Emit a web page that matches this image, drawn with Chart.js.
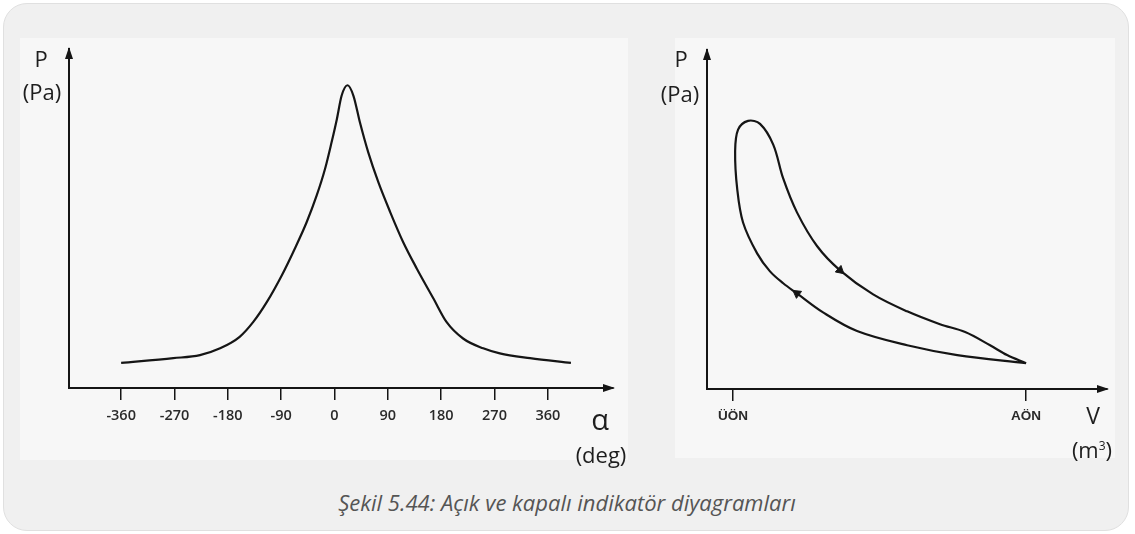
<!DOCTYPE html>
<html lang="tr">
<head>
<meta charset="UTF-8" />
<title>İndikatör diyagramları</title>
<script src="https://cdn.jsdelivr.net/npm/chart.js"></script>
<style>
  body { margin: 0; background: #fff; font-family: "Open Sans", sans-serif; }
  .card {
    position: absolute; left: 3px; top: 3px; width: 1124px; height: 526px;
    background: #f0f0f0; border: 1px solid #e0e0e0; border-radius: 24px;
  }
  .panel { position: absolute; background: #f7f7f7; }
  canvas { position: absolute; top: 0; }
  .lbl {
    position: absolute; transform: translate(-50%, -50%);
    line-height: 1; white-space: nowrap; color: #1e1e1e; font-size: 22px;
  }
  .caption {
    position: absolute; left: 567px; top: 502px; transform: translate(-50%, -50%);
    font-style: italic; font-size: 22px; color: #555; white-space: nowrap;
  }
</style>
</head>
<body>
  <div class="card"></div>
  <div class="panel" style="left:20px;top:38px;width:608px;height:422px"></div>
  <div class="panel" style="left:675px;top:38px;width:440px;height:420px"></div>

  <canvas id="acik" width="640" height="470" style="left:0"></canvas>
  <canvas id="kapali" width="495" height="470" style="left:640px"></canvas>

  <div class="lbl" style="left:41px;top:58px">P</div>
  <div class="lbl" style="left:42px;top:91px">(Pa)</div>
  <div class="lbl" style="left:600px;top:418px;font-size:29px">α</div>
  <div class="lbl" style="left:601px;top:454px">(deg)</div>

  <div class="lbl" style="left:681px;top:58px">P</div>
  <div class="lbl" style="left:680px;top:93px">(Pa)</div>
  <div class="lbl" style="left:1093px;top:415px;font-size:23px">V</div>
  <div class="lbl" style="left:1092px;top:449px">(m<sup style="font-size:12px">3</sup>)</div>

  <div class="caption">Şekil 5.44: Açık ve kapalı indikatör diyagramları</div>

<script>
  // Açık diyagram: basınç - krank açısı
  const aci = [-360, -272, -227, -193, -160, -137, -114, -89, -67, -47, -30, -16, -5, 4, 12, 22,
               32, 43, 57, 74, 94, 116, 139, 167, 189, 217, 251, 279, 330, 399];
  const basincAcik = [7.4, 8.8, 9.7, 11.7, 15.1, 19.5, 25.4, 33.2, 41.1, 48.9, 56.8, 64.6, 72.4, 79.3, 86.2, 89.3,
                      86.2, 78.3, 69.5, 60.7, 51.9, 43, 35.2, 26.4, 19.5, 14.6, 11.7, 10.2, 8.8, 7.4];
  const aciTicks = [-360, -270, -180, -90, 0, 90, 180, 270, 360];

  // Kapalı diyagram: basınç - hacim (AÖN'den başlayan çevrim)
  const hacim = [100, 76.5, 59.4, 42.3, 30.7, 21.8, 17.1, 12.6, 8.2, 3.4, 1.4, 0.7, 1.7, 5.1,
                 9.2, 13.7, 17.1, 21.8, 28.7, 36.5, 47.8, 59.4, 70.6, 79.2, 87.7, 93.5, 100];
  const basincKapali = [7.6, 10.0, 12.9, 17.1, 22.6, 28.2, 31.2, 34.7, 40, 49.1, 59.1, 70, 76.5, 79.1,
                        78.2, 72.1, 62.1, 52.1, 42.1, 35, 27.9, 22.9, 19.1, 16.8, 12.9, 10, 7.6];
  const hacimTicks = [0, 100];
  const hacimLabels = ['ÜÖN', 'AÖN'];

  // çevrim yönü okları
  const okHacim = [36.5, 21.8];
  const okBasinc = [35, 28.2];
  const okAci = [131, 306];

  const ink = '#151515';

  // eksen uçlarındaki oklar
  const axisArrows = {
    id: 'axisArrows',
    afterDraw(chart) {
      const { ctx, chartArea: a } = chart;
      ctx.save();
      ctx.fillStyle = ink;
      ctx.beginPath();
      ctx.moveTo(a.right + 2, a.bottom);
      ctx.lineTo(a.right - 10, a.bottom - 4);
      ctx.lineTo(a.right - 10, a.bottom + 4);
      ctx.closePath();
      ctx.fill();
      ctx.beginPath();
      ctx.moveTo(a.left, a.top - 2);
      ctx.lineTo(a.left - 4, a.top + 10);
      ctx.lineTo(a.left + 4, a.top + 10);
      ctx.closePath();
      ctx.fill();
      ctx.restore();
    }
  };

  function xAxis(min, max, ticks, font, labelFn) {
    return {
      type: 'linear', min, max,
      afterBuildTicks: s => { s.ticks = ticks.map(v => ({ value: v })); },
      afterFit: s => { s.height = 80; },
      grid: { drawOnChartArea: false, drawTicks: true, tickLength: 12, color: ink, lineWidth: 1.5 },
      border: { display: true, color: ink, width: 2 },
      ticks: { padding: 7, color: '#2a2a2a', font, maxRotation: 0, autoSkip: false, callback: labelFn }
    };
  }

  const yAxis = {
    type: 'linear', min: 0, max: 100,
    afterFit: s => { s.width = 0; },
    grid: { display: false },
    border: { display: true, color: ink, width: 2 },
    ticks: { display: false }
  };

  new Chart(document.getElementById('acik'), {
    type: 'line',
    data: {
      datasets: [{
        data: aci.map((x, i) => ({ x, y: basincAcik[i] })),
        borderColor: ink,
        borderWidth: 2.2,
        pointRadius: 0,
        cubicInterpolationMode: 'monotone',
        fill: false
      }]
    },
    options: {
      responsive: false,
      animation: false,
      layout: { padding: { left: 69, top: 49, right: 27, bottom: 2 } },
      plugins: { legend: { display: false }, tooltip: { enabled: false } },
      scales: {
        x: xAxis(-448, 470, aciTicks, { family: 'Open Sans', size: 14.5, weight: '600' }, v => String(v)),
        y: yAxis
      }
    },
    plugins: [axisArrows]
  });

  new Chart(document.getElementById('kapali'), {
    type: 'line',
    data: {
      datasets: [{
        data: hacim.map((x, i) => ({ x, y: basincKapali[i] })),
        borderColor: ink,
        borderWidth: 2.2,
        pointRadius: 0,
        tension: 0.35,
        fill: false
      }, {
        data: okHacim.map((x, i) => ({ x, y: okBasinc[i] })),
        showLine: false,
        pointStyle: 'triangle',
        pointRadius: 5,
        rotation: okAci,
        backgroundColor: ink,
        borderColor: ink,
        borderWidth: 1
      }]
    },
    options: {
      responsive: false,
      animation: false,
      layout: { padding: { left: 67, top: 50, right: 28, bottom: 1 } },
      plugins: { legend: { display: false }, tooltip: { enabled: false } },
      scales: {
        x: xAxis(-8.9, 127.6, hacimTicks, { family: 'Liberation Sans', size: 13.5, weight: 'bold' },
                 v => hacimLabels[hacimTicks.indexOf(v)]),
        y: yAxis
      }
    },
    plugins: [axisArrows]
  });
</script>
</body>
</html>
